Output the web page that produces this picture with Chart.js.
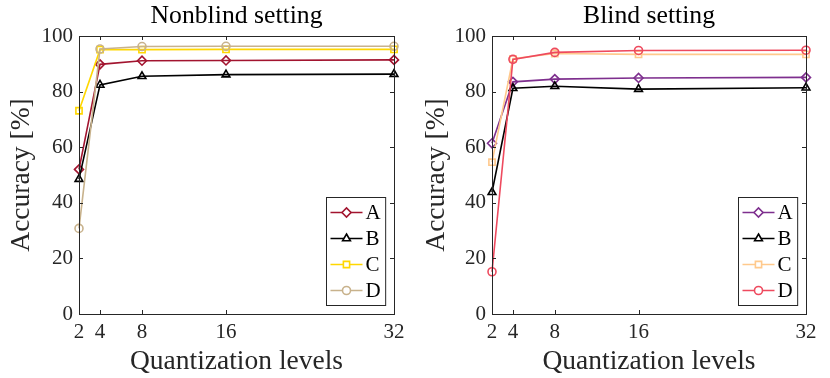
<!DOCTYPE html>
<html>
<head>
<meta charset="utf-8">
<script src="https://cdn.jsdelivr.net/npm/chart.js@4"></script>
<style>
  html, body { margin:0; padding:0; background:#fff; }
  .wrap { position:absolute; top:0; width:415px; height:378px; }
  #w1 { left:0; }
  #w2 { left:415px; }
</style>
</head>
<body>
<div class="wrap" id="w1"><canvas id="c1"></canvas></div>
<div class="wrap" id="w2"><canvas id="c2"></canvas></div>
<script>
/* ===== data ===== */
const xLevels   = [2, 4, 8, 16, 32];
const yTicks    = [0, 20, 40, 60, 80, 100];
const seriesNames = ['A', 'B', 'C', 'D'];

const nonblindA = [52.0, 89.8, 91.1, 91.2, 91.4];
const nonblindB = [48.5, 82.4, 85.5, 86.1, 86.3];
const nonblindC = [73.1, 95.1, 95.1, 95.2, 95.2];
const nonblindD = [30.8, 95.3, 96.2, 96.3, 96.3];

const blindA = [61.4, 83.5, 84.5, 84.9, 85.1];
const blindB = [43.8, 81.2, 81.9, 80.9, 81.4];
const blindC = [54.6, 91.8, 93.7, 93.4, 93.4];
const blindD = [15.2, 91.6, 94.1, 94.8, 94.9];

/* ===== styling ===== */
const FONT   = '"Liberation Serif", "DejaVu Serif", serif';
const INK    = '#262626';
const styles = ['rectRot', 'triangle', 'rect', 'circle'];
const radii  = [4.5, 4.5, 4.4, 4];

/* box, inward ticks, title and legend drawn around the plot (MATLAB look) */
const decorPlugin = {
  id: 'decor',
  afterDraw (chart, args, opts) {
    const { ctx, chartArea: a, scales } = chart;
    ctx.save();
    ctx.strokeStyle = INK;
    ctx.lineWidth = 1;
    ctx.strokeRect(Math.round(a.left) + 0.5, Math.round(a.top) + 0.5,
                   Math.round(a.right - a.left), Math.round(a.bottom - a.top));
    ctx.beginPath();
    xLevels.forEach(v => {
      const px = Math.round(scales.x.getPixelForValue(v)) + 0.5;
      ctx.moveTo(px, a.bottom); ctx.lineTo(px, a.bottom - 4);
      ctx.moveTo(px, a.top);    ctx.lineTo(px, a.top + 4);
    });
    yTicks.forEach(v => {
      const py = Math.round(scales.y.getPixelForValue(v)) + 0.5;
      ctx.moveTo(a.left, py);  ctx.lineTo(a.left + 4, py);
      ctx.moveTo(a.right, py); ctx.lineTo(a.right - 4, py);
    });
    ctx.stroke();

    /* title */
    ctx.fillStyle = '#000';
    ctx.font = '25.7px ' + FONT;
    ctx.textAlign = 'center';
    ctx.textBaseline = 'middle';
    ctx.fillText(opts.title, (a.left + a.right) / 2, 16);

    /* legend, inside bottom-right */
    const ds = chart.data.datasets;
    ctx.font = '21px ' + FONT;
    const tw = Math.max(...ds.map(d => ctx.measureText(d.label).width));
    const w = 4 + 32 + 3 + tw + 5, rowH = 26, h = ds.length * rowH + 4;
    const bx = Math.round(a.right - 9 - w) + 0.5, by = Math.round(a.bottom - 9 - h) + 0.5;
    ctx.fillStyle = '#fff';
    ctx.fillRect(bx, by, w, h);
    ctx.strokeStyle = INK;
    ctx.strokeRect(bx, by, w, h);
    ds.forEach((d, i) => {
      const cy = by + 15 + i * rowH;
      ctx.strokeStyle = d.borderColor;
      ctx.lineWidth = d.borderWidth;
      ctx.beginPath(); ctx.moveTo(bx + 4, cy); ctx.lineTo(bx + 36, cy); ctx.stroke();
      ctx.fillStyle = '#fff';
      Chart.helpers.drawPoint(ctx, { pointStyle: d.pointStyle, radius: d.pointRadius,
        borderWidth: d.pointBorderWidth, rotation: 0 }, bx + 20, cy);
      ctx.fillStyle = '#000';
      ctx.textAlign = 'left';
      ctx.fillText(d.label, bx + 39, cy + 1);
    });
    ctx.restore();
  }
};

function makeSets (values, colors) {
  return values.map((vals, i) => ({
    label: seriesNames[i],
    data: xLevels.map((x, j) => ({ x, y: vals[j] })),
    borderColor: colors[i],
    backgroundColor: 'rgba(255,255,255,0)',
    borderWidth: 1.6,
    pointStyle: styles[i],
    pointRadius: radii[i],
    pointBorderWidth: 1.6,
    pointBackgroundColor: 'rgba(255,255,255,0)',
    tension: 0,
    clip: false,
    order: 4 - i          // later series on top
  }));
}

function makeChart (id, title, values, colors, yWidth, padRight) {
  return new Chart(document.getElementById(id), {
    type: 'line',
    data: { datasets: makeSets(values, colors) },
    plugins: [decorPlugin],
    options: {
      responsive: true,
      maintainAspectRatio: false,
      animation: false,
      events: [],
      layout: { padding: { top: 36, right: padRight, left: 0, bottom: 0 } },
      plugins: {
        legend: { display: false },
        tooltip: { enabled: false },
        decor: { title }
      },
      scales: {
        x: {
          type: 'linear', min: 2, max: 32,
          afterBuildTicks: s => { s.ticks = xLevels.map(v => ({ value: v })); },
          afterFit: s => { s.height = 64; },
          grid: { display: false, drawTicks: false },
          border: { display: false },
          ticks: { font: { family: FONT, size: 21 }, color: INK, padding: 6, maxRotation: 0 },
          title: { display: true, text: 'Quantization levels', color: INK,
                   font: { family: FONT, size: 27.5 }, padding: { top: 0, bottom: 0 } }
        },
        y: {
          min: 0, max: 100,
          afterBuildTicks: s => { s.ticks = yTicks.map(v => ({ value: v })); },
          afterFit: s => { s.width = yWidth; },
          grid: { display: false, drawTicks: false },
          border: { display: false },
          ticks: { font: { family: FONT, size: 21 }, color: INK, padding: 6 },
          title: { display: true, text: 'Accuracy [%]', color: INK,
                   font: { family: FONT, size: 27.5 }, padding: { top: 5, bottom: 0 } }
        }
      }
    }
  });
}

makeChart('c1', 'Nonblind setting',
  [nonblindA, nonblindB, nonblindC, nonblindD],
  ['#A2142F', '#000000', '#FFD700', '#C8B28C'], 79, 21);

makeChart('c2', 'Blind setting',
  [blindA, blindB, blindC, blindD],
  ['#7E2F8E', '#000000', '#FFC98C', '#EE4A5E'], 77, 24);
</script>
</body>
</html>
